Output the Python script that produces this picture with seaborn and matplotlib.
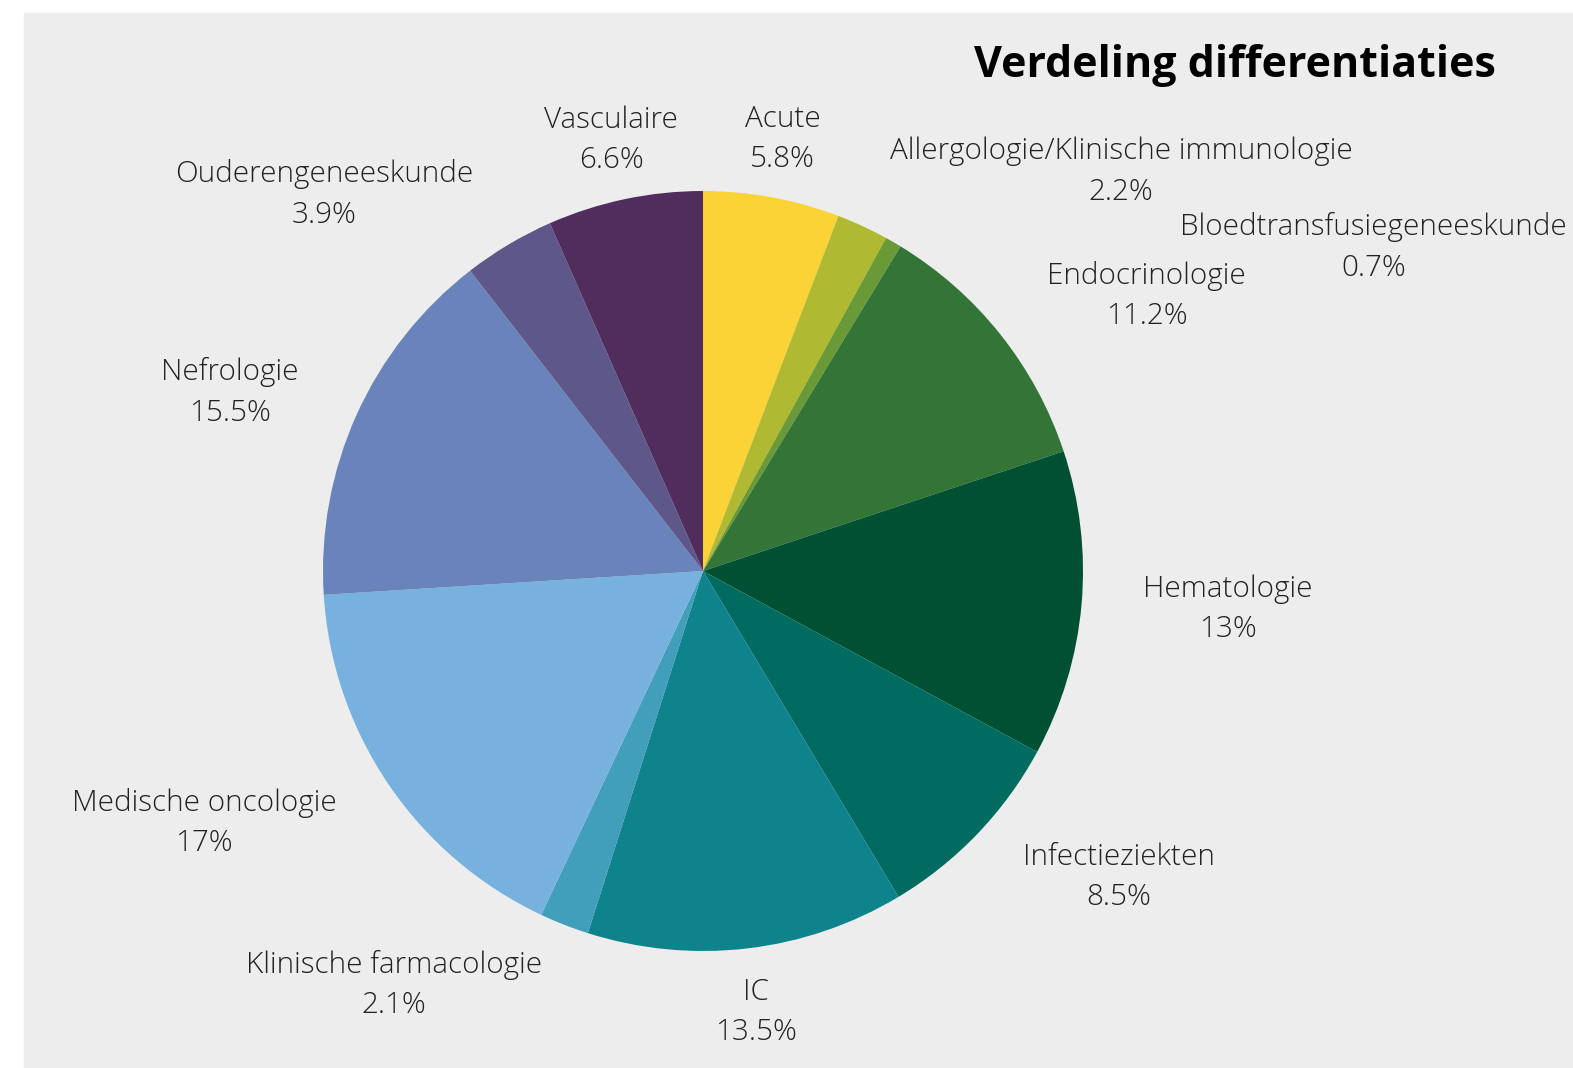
import matplotlib.pyplot as plt
import seaborn as sns
from matplotlib.patches import Rectangle

# data (clockwise from 12 o'clock)
categories = ['Acute', 'Allergologie/Klinische immunologie', 'Bloedtransfusiegeneeskunde',
              'Endocrinologie', 'Hematologie', 'Infectieziekten', 'IC',
              'Klinische farmacologie', 'Medische oncologie', 'Nefrologie',
              'Ouderengeneeskunde', 'Vasculaire']
shares = [5.8, 2.2, 0.7, 11.2, 13, 8.5, 13.5, 2.1, 17, 15.5, 3.9, 6.6]
colors = ['#fcd337', '#afb932', '#6a9a37', '#337537', '#005034', '#006b5f',
          '#0e838b', '#419fbb', '#77b2df', '#6884bb', '#5e588a', '#512d5e']

# label anchor positions in pie-radius units (layout only)
label_pos = [(0.21, 1.137), (1.1, 1.051), (1.765, 0.851), (1.168, 0.724),
             (1.382, -0.101), (1.095, -0.805), (0.14, -1.161), (-0.813, -1.09),
             (-1.313, -0.663), (-1.245, 0.47), (-0.997, 0.991), (-0.242, 1.133)]

sns.set_theme(style='white')
plt.rcParams['font.family'] = ['Open Sans', 'DejaVu Sans']

W, H = 1573, 1068
cx, cy, R = 703, 571, 380
fig = plt.figure(figsize=(W / 100, H / 100), dpi=100, facecolor='white')
fig.patches.append(Rectangle((24 / W, 0), 1 - 24 / W, (H - 13) / H,
                             transform=fig.transFigure, color='#ededed', zorder=-5))

ax = fig.add_axes([0, 0, 1, 1])
ax.set_facecolor('none')
ax.set_zorder(2)
ax.pie(shares, colors=sns.color_palette(colors), startangle=90, counterclock=False,
       radius=1, wedgeprops=dict(linewidth=0))

for name, v, (x, y) in zip(categories, shares, label_pos):
    ax.text(x, y, f"{name}\n{v:g}%", ha='center', va='center', fontsize=21.3,
            fontweight='light', color='#222222', linespacing=1.48)

ax.set_xlim(-cx / R, (W - cx) / R)
ax.set_ylim(-(H - cy) / R, cy / R)
ax.set_aspect('auto')
ax.axis('off')

fig.text(1496 / W, 1 - 77 / H, 'Verdeling differentiaties', ha='right', va='baseline',
         fontsize=31, fontweight='bold', color='black', zorder=3)

fig.savefig('out.png', dpi=100, facecolor='white')
